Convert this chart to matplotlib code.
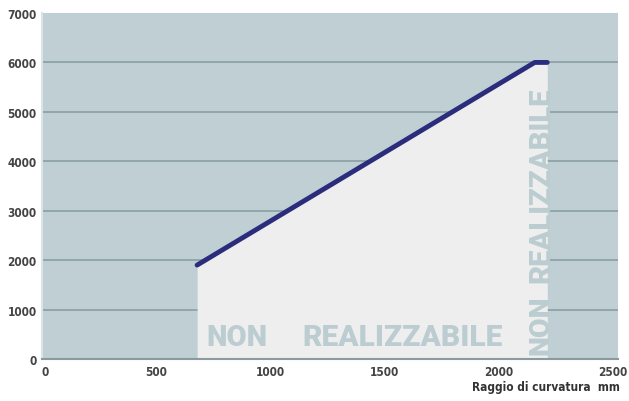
import matplotlib
matplotlib.use("Agg")
import matplotlib.pyplot as plt

# data
radius = [680, 2160, 2215]
length = [1900, 6000, 6000]
xticks = [0, 500, 1000, 1500, 2000, 2500]
yticks = [0, 1000, 2000, 3000, 4000, 5000, 6000, 7000]
xlabel = "Raggio di curvatura  mm"
word1 = "NON"
word2 = "REALIZZABILE"

fig = plt.figure(figsize=(6.29, 4.02), dpi=100)
ax = fig.add_axes([42/629, 42/402, 576/629, 346/402])
bg = "#bfcfd3"
ax.set_facecolor(bg)
ax.set_xlim(0, 2525)
ax.set_ylim(0, 7000)

for y in yticks[1:-1]:
    ax.axhline(y, color="#8ea3a7", lw=1.3, zorder=1)

ax.fill_between(radius, 0, length, color="#eeeeee", zorder=2, lw=0)
ax.plot(radius, length, color="#2b2d7c", lw=3.5, solid_capstyle="round", zorder=4)

tfont = dict(family=["Roboto", "Liberation Sans", "DejaVu Sans"], weight=900, color="#bccdd2")
ax.text(722, 445, word1, fontsize=21, ha="left", va="center", zorder=3, **tfont)
ax.text(1140, 445, word2, fontsize=21.5, ha="left", va="center", zorder=3, **tfont)
ax.text(2188, 100, word1, fontsize=20.5, rotation=90, ha="center", va="bottom", zorder=3, **tfont)
ax.text(2188, 1560, word2, fontsize=21, rotation=90, ha="center", va="bottom", zorder=3, **tfont)

ax.set_xticks(xticks)
ax.set_yticks(yticks)
lf = dict(family=["DejaVu Sans"], stretch="condensed", weight="bold", size=8.5)
ax.set_xticklabels([str(v) for v in xticks], color="#444444", **lf)
ax.set_yticklabels([str(v) for v in yticks], color="#444444", **lf)
ax.tick_params(length=0, pad=4)
for lab in ax.get_xticklabels()[:1]:
    lab.set_horizontalalignment("left")

for s in ["top", "right"]:
    ax.spines[s].set_visible(False)
ax.spines["left"].set_color("#d8e4e6")
ax.spines["left"].set_linewidth(1.5)
ax.spines["bottom"].set_color("#8a9a9e")
ax.spines["bottom"].set_linewidth(1.5)

fig.text(620/629, 1 - 388/402, xlabel, ha="right", va="center", color="#333333", **lf)

fig.savefig("out.png", dpi=100, facecolor="white")
